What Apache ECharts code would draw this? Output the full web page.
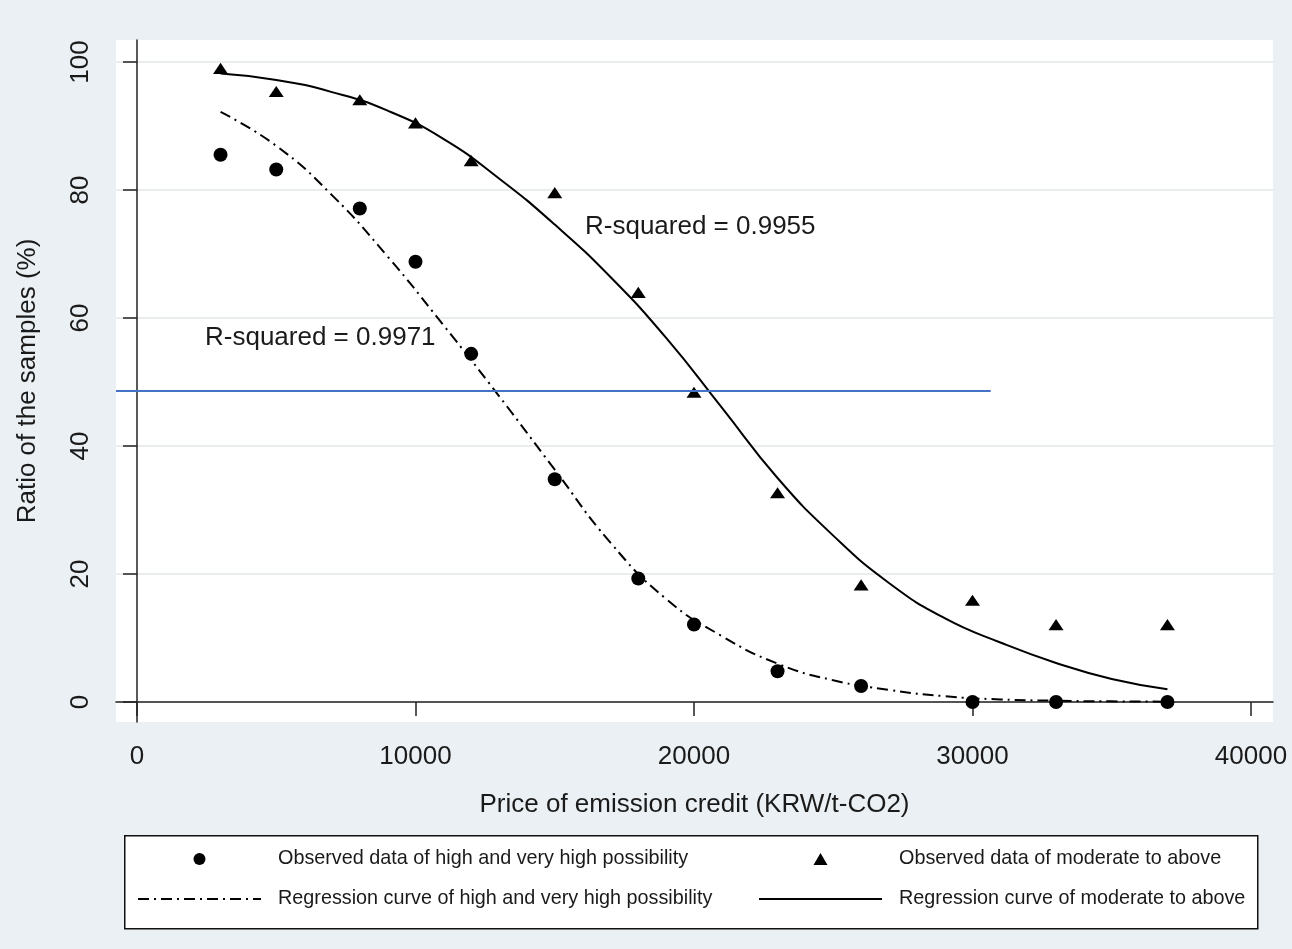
<!DOCTYPE html>
<html>
<head>
<meta charset="utf-8">
<script src="https://cdn.jsdelivr.net/npm/echarts@6/dist/echarts.min.js"></script>
<style>
  html, body { margin: 0; padding: 0; background: #EAF0F3; }
  #chart { width: 1292px; height: 949px; }
</style>
</head>
<body>
<div id="chart"></div>
<script>
// ---- data ----
const priceObs = [3000, 5000, 8000, 10000, 12000, 15000, 18000, 20000, 23000, 26000, 30000, 33000, 37000];
const highObs = [85.5, 83.2, 77.1, 68.8, 54.4, 34.8, 19.3, 12.1, 4.8, 2.5, 0, 0, 0];
const moderateObs = [99.0, 95.4, 94.1, 90.5, 84.6, 79.6, 64.0, 48.4, 32.7, 18.3, 15.9, 12.1, 12.1];

const curveX = [3000, 5000, 7000, 9000, 11000, 13000, 15000, 17000, 19000, 21000, 23000, 25000, 27000, 29000, 31000, 33000, 35000, 37000];
const highCurveY = [92.2, 86.9, 79.2, 69.6, 58.9, 47.8, 36.3, 24.9, 16.1, 10.3, 6.0, 3.4, 1.9, 0.9, 0.4, 0.2, 0.1, 0.05];
const modCurveY = [98.2, 97.2, 95.3, 92.4, 88.0, 81.8, 74.6, 66.4, 56.9, 46.0, 35.0, 26.0, 18.6, 13.1, 9.3, 6.1, 3.6, 2.0];

const xTicks = [0, 10000, 20000, 30000, 40000];
const yTicks = [0, 20, 40, 60, 80, 100];

const seriesNames = [
  'Observed data of high and very high possibility',
  'Observed data of moderate to above',
  'Regression curve of high and very high possibility',
  'Regression curve of moderate to above'
];

// annotations: [x, y, text]
const annHigh = [2442, 56.9, 'R-squared = 0.9971'];
const annMod = [16086, 74.2, 'R-squared = 0.9955'];
// reference line: [xStart, xEnd, y]
const refLine = [-754, 30654, 48.6];

// ---- chart ----
const zip = (a, b) => a.map((v, i) => [v, b[i]]);
const FONT = "'Liberation Sans', Arial, sans-serif";
const TXT = '#1a1a1a';
const TRI = 'path://M0,12L7,0L14,12Z';

const chart = echarts.init(document.getElementById('chart'), null, { renderer: 'canvas' });

const legendCommon = {
  orient: 'vertical',
  top: 847,
  itemWidth: 123,
  itemHeight: 12,
  itemGap: 16,
  padding: 0,
  selectedMode: false,
  textStyle: { fontFamily: FONT, fontSize: 19.8, color: TXT, lineHeight: 24, padding: [0, 0, 0, 12] }
};
const hideDot = { opacity: 0, borderWidth: 0 };

chart.setOption({
  backgroundColor: '#EAF0F3',
  animation: false,
  textStyle: { fontFamily: FONT },
  grid: {
    left: 116, right: 19, top: 40, bottom: 227,
    show: true, backgroundColor: '#ffffff', borderWidth: 0
  },
  graphic: [{
    type: 'rect', left: 124, top: 835, z: 1,
    shape: { width: 1133, height: 93 },
    style: { fill: '#ffffff', stroke: '#111111', lineWidth: 1.5 }
  }],
  legend: [
    Object.assign({}, legendCommon, { left: 137, data: [
      { name: seriesNames[0] },
      { name: seriesNames[2], itemStyle: hideDot }
    ] }),
    Object.assign({}, legendCommon, { left: 758, data: [
      { name: seriesNames[1] },
      { name: seriesNames[3], itemStyle: hideDot }
    ] })
  ],
  xAxis: {
    type: 'value', min: -754, max: 40790,
    name: 'Price of emission credit (KRW/t-CO2)',
    nameLocation: 'middle', nameGap: 70,
    nameTextStyle: { fontFamily: FONT, fontSize: 26, color: TXT },
    axisLine: { lineStyle: { color: '#222', width: 1.5 } },
    axisTick: { show: true, length: 14, customValues: xTicks, lineStyle: { color: '#222', width: 1.5 } },
    axisLabel: { customValues: xTicks, margin: 22, fontSize: 26, color: TXT, fontFamily: FONT,
                 formatter: v => String(v) },
    splitLine: { show: false }
  },
  yAxis: {
    type: 'value', min: -3.125, max: 103.44,
    name: 'Ratio of the samples (%)',
    nameLocation: 'middle', nameGap: 75,
    nameTextStyle: { fontFamily: FONT, fontSize: 26, color: TXT },
    axisLine: { show: true, lineStyle: { color: '#222', width: 1.5 } },
    axisTick: { show: true, length: 14, customValues: yTicks, lineStyle: { color: '#222', width: 1.5 } },
    axisLabel: { customValues: yTicks, rotate: 90, margin: 22, fontSize: 26, color: TXT, fontFamily: FONT,
                 formatter: v => String(v) },
    splitLine: { show: true, lineStyle: { color: '#E9EDED', width: 2 } }
  },
  series: [
    {
      name: seriesNames[0], type: 'scatter', data: zip(priceObs, highObs),
      symbol: 'circle', symbolSize: 14, itemStyle: { color: '#000', opacity: 1 }, z: 3
    },
    {
      name: seriesNames[1], type: 'scatter', data: zip(priceObs, moderateObs),
      symbol: TRI, symbolKeepAspect: true, symbolSize: [15, 13], itemStyle: { color: '#000', opacity: 1 }, z: 3
    },
    {
      name: seriesNames[2], type: 'line', data: zip(curveX, highCurveY),
      smooth: 0.5, showSymbol: false, symbol: 'none', clip: false,
      itemStyle: { color: '#000' },
      lineStyle: { color: '#000', width: 2, type: [11, 5, 2, 5] }, z: 4,
      markPoint: {
        symbol: 'circle', symbolSize: 0, silent: true,
        label: { show: true, position: 'right', distance: 0, fontSize: 26, color: TXT, fontFamily: FONT, formatter: annHigh[2] },
        data: [{ coord: [annHigh[0], annHigh[1]] }]
      }
    },
    {
      name: seriesNames[3], type: 'line', data: zip(curveX, modCurveY),
      smooth: 0.5, showSymbol: false, symbol: 'none', clip: false,
      itemStyle: { color: '#000' },
      lineStyle: { color: '#000', width: 2, type: 'solid' }, z: 4,
      markPoint: {
        symbol: 'circle', symbolSize: 0, silent: true,
        label: { show: true, position: 'right', distance: 0, fontSize: 26, color: TXT, fontFamily: FONT, formatter: annMod[2] },
        data: [{ coord: [annMod[0], annMod[1]] }]
      },
      markLine: {
        silent: true, symbol: ['none', 'none'],
        label: { show: false },
        lineStyle: { color: '#4472C4', width: 2, type: 'solid' },
        data: [[{ coord: [refLine[0], refLine[2]] }, { coord: [refLine[1], refLine[2]] }]]
      }
    }
  ]
});
</script>
</body>
</html>
